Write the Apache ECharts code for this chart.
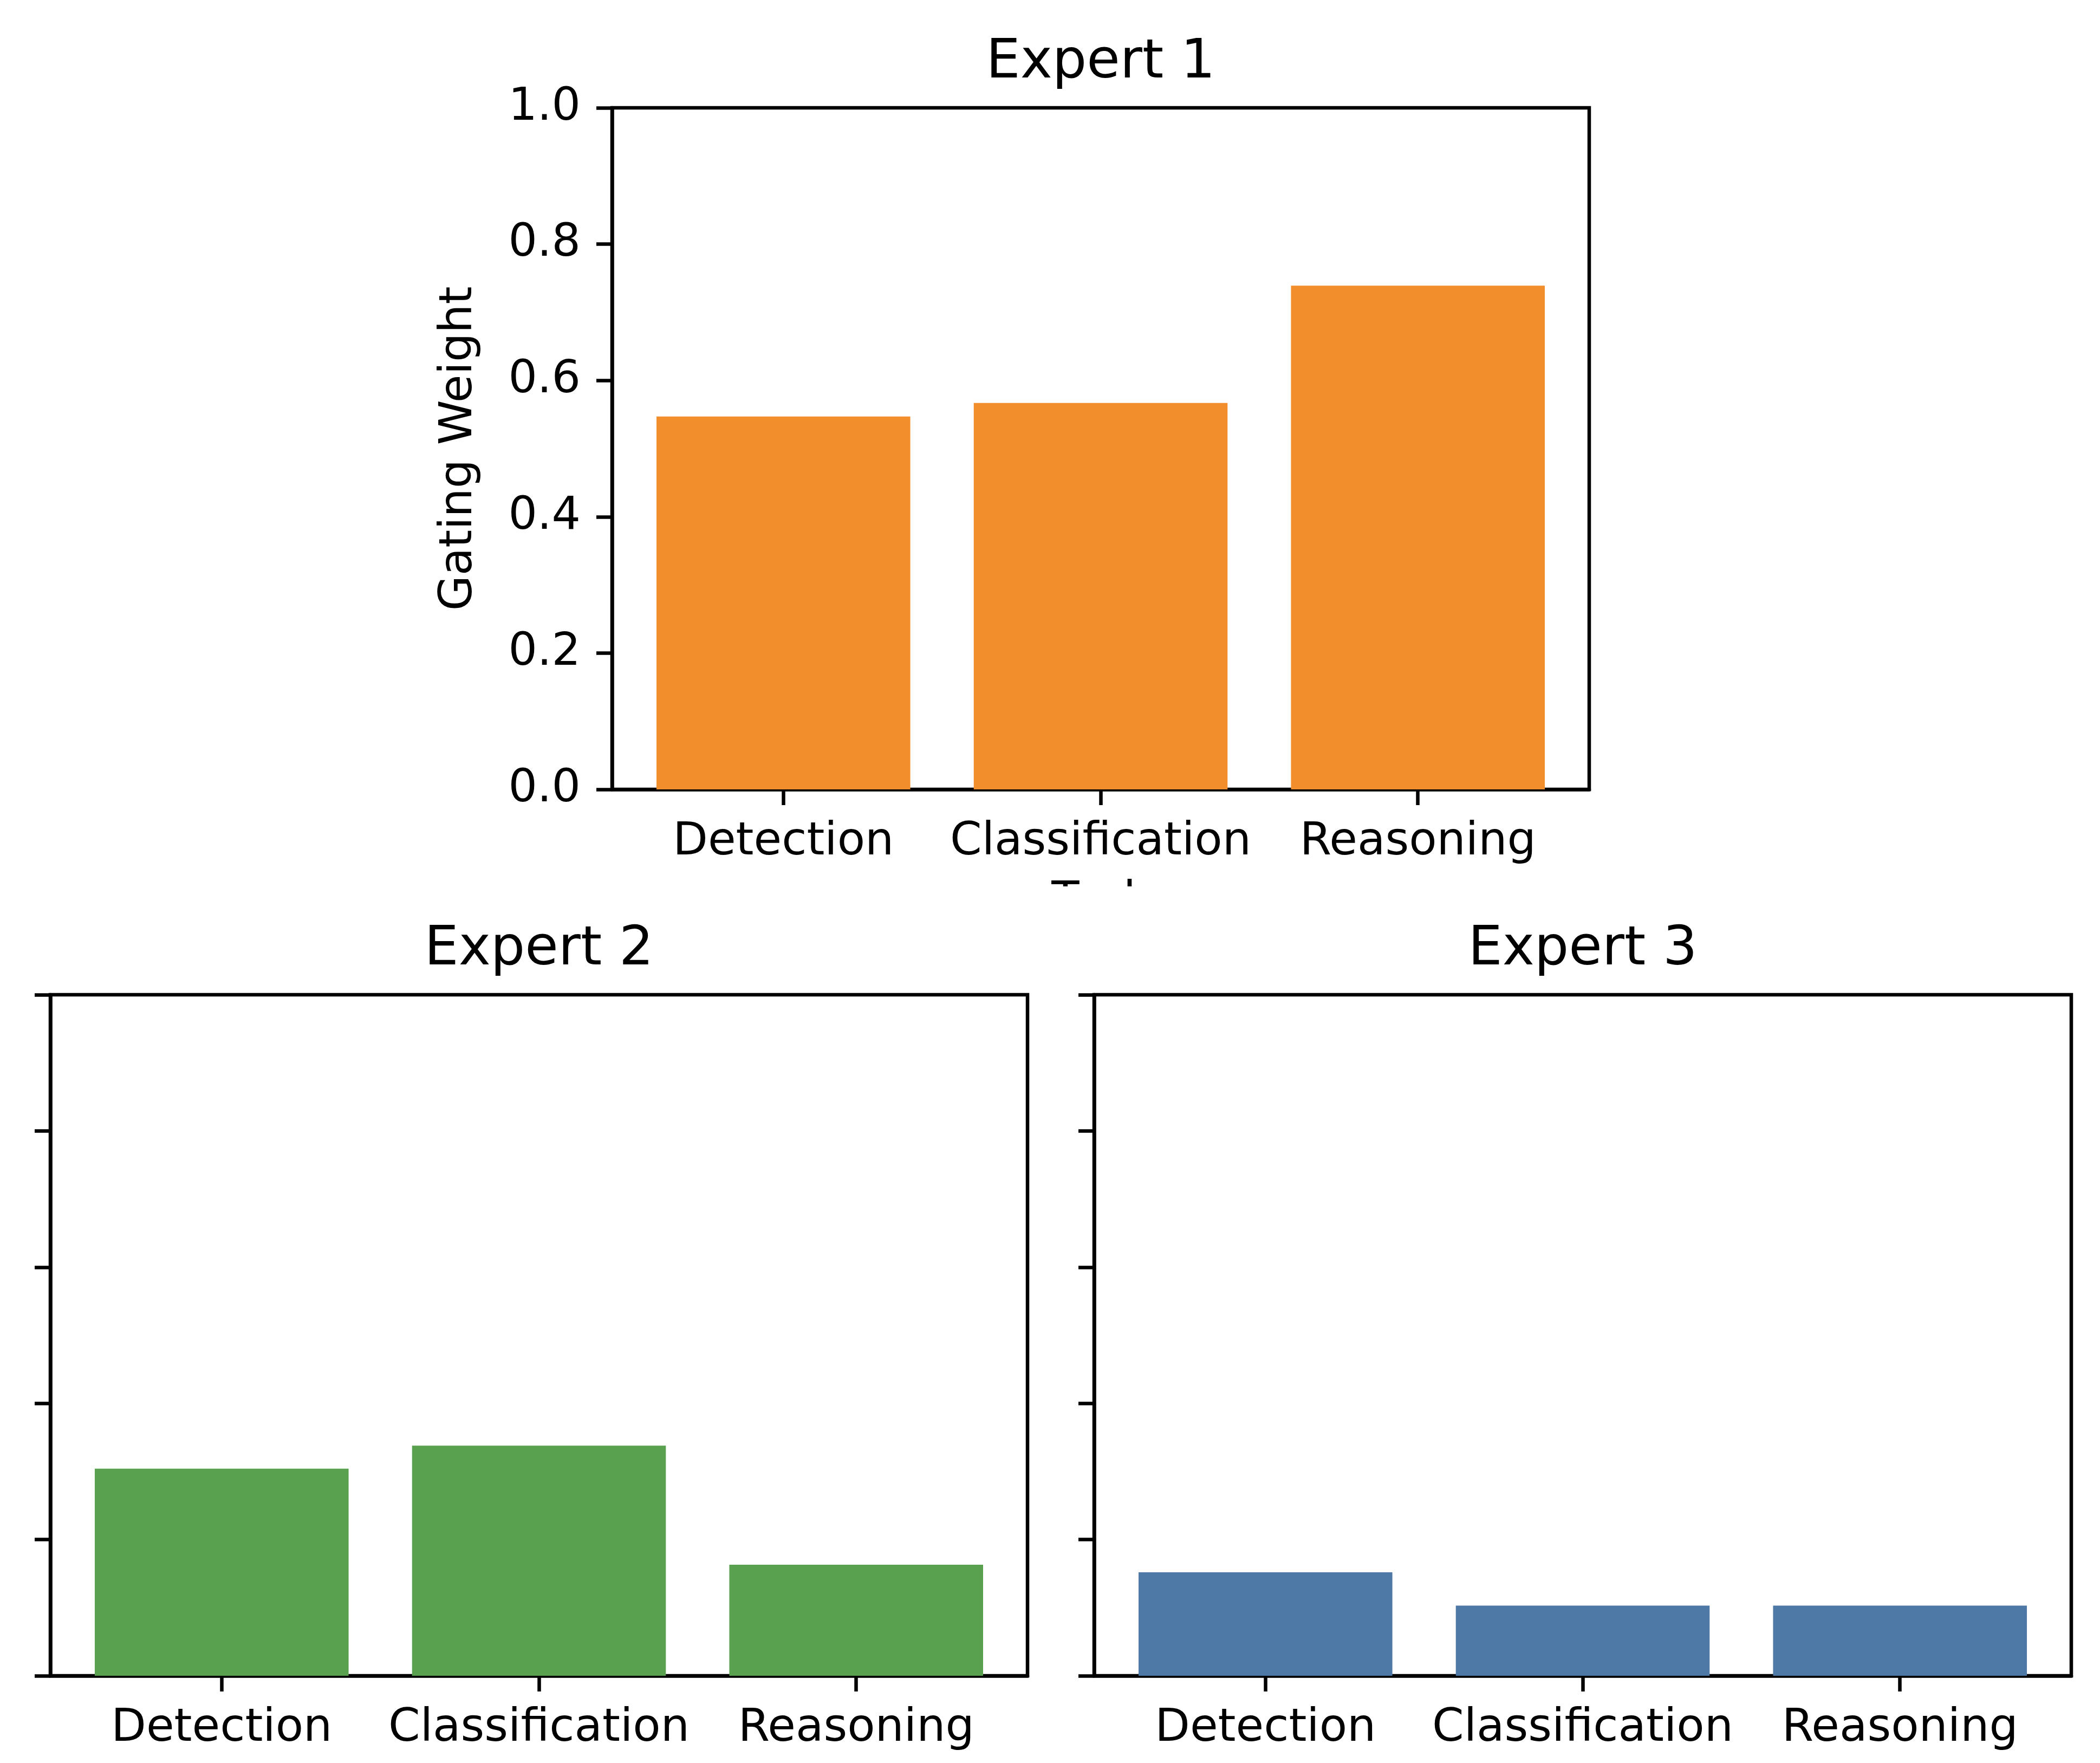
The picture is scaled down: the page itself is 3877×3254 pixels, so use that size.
<!DOCTYPE html>
<html>
<head>
<meta charset="utf-8">
<script src="https://cdn.jsdelivr.net/npm/echarts@6/dist/echarts.min.js"></script>
<style>
html,body{margin:0;padding:0;background:#fff;}
#chart{width:3877px;height:3254px;}
</style>
</head>
<body>
<div id="chart"></div>
<script>
// ---- data ----
const categories = ["Detection", "Classification", "Reasoning"];
const expertTitles = ["Expert 1", "Expert 2", "Expert 3"];
const expert1 = [0.547, 0.567, 0.739];
const expert2 = [0.304, 0.338, 0.163];
const expert3 = [0.152, 0.103, 0.103];
const yTicks = [0.0, 0.2, 0.4, 0.6, 0.8, 1.0];
const yLabel = "Gating Weight";
const xLabel = "Task";
const colors = ["#F28E2B", "#59A14F", "#4E79A7"];

// ---- layout ----
const FONT = "DejaVu Sans";
const TICK_FS = 84;
const TITLE_FS = 100;
const LW = 6.5;
const TICKLEN = 29;
const grids = [
  {left: 1130, top: 199, width: 1804, height: 1258},
  {left: 93, top: 1836, width: 1804, height: 1257},
  {left: 2020, top: 1836, width: 1804, height: 1257}
];
const XMIN = -0.54, XMAX = 2.54;
const seriesVals = [expert1, expert2, expert3];

const option = {
  backgroundColor: "#fff",
  animation: false,
  textStyle: {fontFamily: FONT, color: "#000"},
  title: grids.map((g, i) => ({
    text: expertTitles[i],
    left: g.left + g.width / 2,
    top: g.top - 132,
    textAlign: "center",
    padding: 0,
    textStyle: {fontFamily: FONT, fontSize: TITLE_FS, fontWeight: "normal", color: "#000"}
  })),
  grid: grids.map(g => ({
    left: g.left, top: g.top, width: g.width, height: g.height,
    show: true, borderColor: "#000", borderWidth: LW, backgroundColor: "transparent",
    containLabel: false
  })),
  xAxis: grids.map((g, i) => ({
    type: "value", gridIndex: i, min: XMIN, max: XMAX,
    name: i === 0 ? xLabel : "",
    nameLocation: "middle", nameGap: 165,
    nameTextStyle: {fontFamily: FONT, fontSize: TICK_FS, color: "#000"},
    splitLine: {show: false},
    axisLine: {show: true, onZero: false, lineStyle: {color: "#000", width: LW}},
    axisTick: {show: true, length: TICKLEN, lineStyle: {color: "#000", width: LW}, customValues: [0, 1, 2]},
    axisLabel: {
      show: true, margin: 56, fontFamily: FONT, fontSize: TICK_FS, color: "#000",
      customValues: [0, 1, 2],
      formatter: v => categories[Math.round(v)]
    }
  })),
  yAxis: grids.map((g, i) => ({
    type: "value", gridIndex: i, min: 0, max: 1, interval: 0.2,
    name: i === 0 ? yLabel : "",
    nameLocation: "middle", nameRotate: 90, nameGap: 240,
    nameTextStyle: {fontFamily: FONT, fontSize: TICK_FS, color: "#000"},
    splitLine: {show: false},
    axisLine: {show: true, onZero: false, lineStyle: {color: "#000", width: LW}},
    axisTick: {show: true, length: TICKLEN, lineStyle: {color: "#000", width: LW}},
    axisLabel: {
      show: i === 0, margin: 58, fontFamily: FONT, fontSize: TICK_FS, color: "#000",
      formatter: v => v.toFixed(1)
    }
  })),
  series: seriesVals.map((vals, i) => ({
    type: "bar", xAxisIndex: i, yAxisIndex: i,
    barWidth: 0.8 * grids[i].width / (XMAX - XMIN),
    itemStyle: {color: colors[i]},
    data: categories.map((c, k) => [k, vals[k]]),
    z: 1
  })),
  graphic: [{
    type: "rect", z: 100, silent: true,
    shape: {x: 1700, y: 1636, width: 600, height: 64},
    style: {fill: "#fff"}
  }]
};

const chart = echarts.init(document.getElementById("chart"), null, {renderer: "canvas"});
chart.setOption(option);
</script>
</body>
</html>
